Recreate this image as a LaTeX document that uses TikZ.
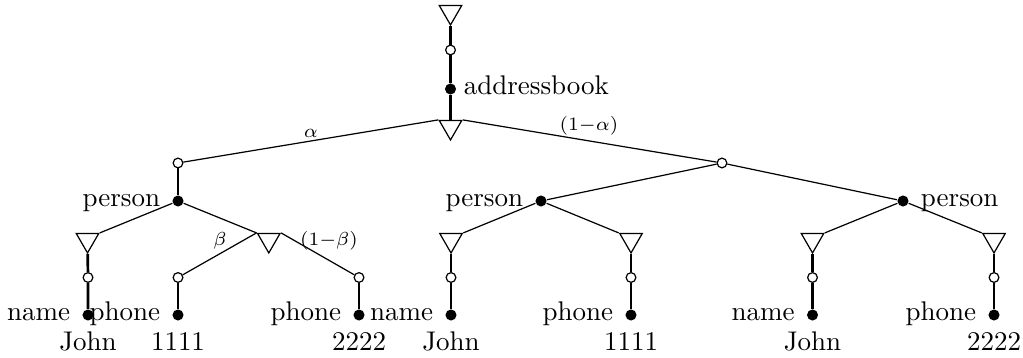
\documentclass[tikz,border=0pt]{standalone}
\usetikzlibrary{shapes.geometric}
\begin{document}
\begin{tikzpicture}[x=0.3705pt,y=-0.3705pt,
  tri/.style={regular polygon, regular polygon sides=3, shape border rotate=180,
    draw, line width=0.45pt, inner sep=0pt, minimum size=9.6pt},
  oc/.style={circle, draw, fill=white, line width=0.45pt, inner sep=0pt, minimum size=3.6pt},
  fc/.style={circle, fill=black, inner sep=0pt, minimum size=4.1pt},
  thinedge/.style={line width=0.45pt},
  thickedge/.style={line width=1pt},
  lab/.style={font=\scriptsize, inner sep=0pt},
  every label/.style={text height=1.5ex, text depth=0.5ex, inner sep=0pt},
  label distance=4.2pt]
\useasboundingbox (0,0) rectangle (1023,358);
% top chain
\node[tri] (t0) at (450.5,12) {};
\node[oc] (o0) at (450.5,50) {};
\node[fc, label={[label distance=2.5pt]right:addressbook}] (f0) at (450.5,89) {};
\node[tri] (t1) at (450.5,127) {};
\node[oc] (ol) at (178,163) {};
\node[oc] (or) at (722,163) {};
\node[lab] (la) at (311,133) {$\alpha$};
\node[lab] (lna) at (589,126) {$(1{-}\alpha)$};
% left subtree
\node[fc, label=left:person] (pl) at (178,201) {};
\node[tri] (tll) at (87.5,240) {};
\node[tri] (tlr) at (268.8,240) {};
\node[lab] (lb) at (220,241) {$\beta$};
\node[lab] (lnb) at (329,241) {$(1{-}\beta)$};
\node[oc] (oll) at (88,277.5) {};
\node[oc] (olm) at (178,277.5) {};
\node[oc] (olr) at (359,277.5) {};
\node[fc, label=left:name, label=below:John] (fll) at (88,315) {};
\node[fc, label=left:phone, label=below:1111] (flm) at (178,315) {};
\node[fc, label=left:phone, label=below:2222] (flr) at (359,315) {};
% middle subtree
\node[fc, label=left:person] (pm) at (541,201) {};
\node[tri] (tml) at (451,240) {};
\node[tri] (tmr) at (631,240) {};
\node[oc] (oml) at (451,277.5) {};
\node[oc] (omr) at (631,277.5) {};
\node[fc, label=left:name, label=below:John] (fml) at (451,315) {};
\node[fc, label=left:phone, label=below:1111] (fmr) at (631,315) {};
% right subtree
\node[fc, label=right:person] (pr) at (903,201) {};
\node[tri] (trl) at (812.5,240) {};
\node[tri] (trr) at (994,240) {};
\node[oc] (orl) at (812.5,277.5) {};
\node[oc] (orr) at (994,277.5) {};
\node[fc, label=left:name, label=below:John] (frl) at (812.5,315) {};
\node[fc, label=left:phone, label=below:2222] (frr) at (994,315) {};
% edges
\draw[thickedge] (t0) -- (o0) -- (f0) -- (t1);
\draw[thinedge] (t1.corner 3) -- (ol);
\draw[thinedge] (t1.corner 2) -- (or);
\draw[thickedge] (ol) -- (pl);
\draw[thinedge] (pl) -- (tll.corner 2);
\draw[thinedge] (pl) -- (tlr.corner 3);
\draw[thickedge] (tll) -- (oll) -- (fll);
\draw[thinedge] (tlr.corner 3) -- (olm);
\draw[thinedge] (tlr.corner 2) -- (olr);
\draw[thickedge] (olm) -- (flm);
\draw[thickedge] (olr) -- (flr);
\draw[thinedge] (or) -- (pm);
\draw[thinedge] (or) -- (pr);
\draw[thinedge] (pm) -- (tml.corner 2);
\draw[thinedge] (pm) -- (tmr.corner 3);
\draw[thickedge] (tml) -- (oml) -- (fml);
\draw[thickedge] (tmr) -- (omr) -- (fmr);
\draw[thinedge] (pr) -- (trl.corner 2);
\draw[thinedge] (pr) -- (trr.corner 3);
\draw[thickedge] (trl) -- (orl) -- (frl);
\draw[thickedge] (trr) -- (orr) -- (frr);
\end{tikzpicture}
\end{document}
